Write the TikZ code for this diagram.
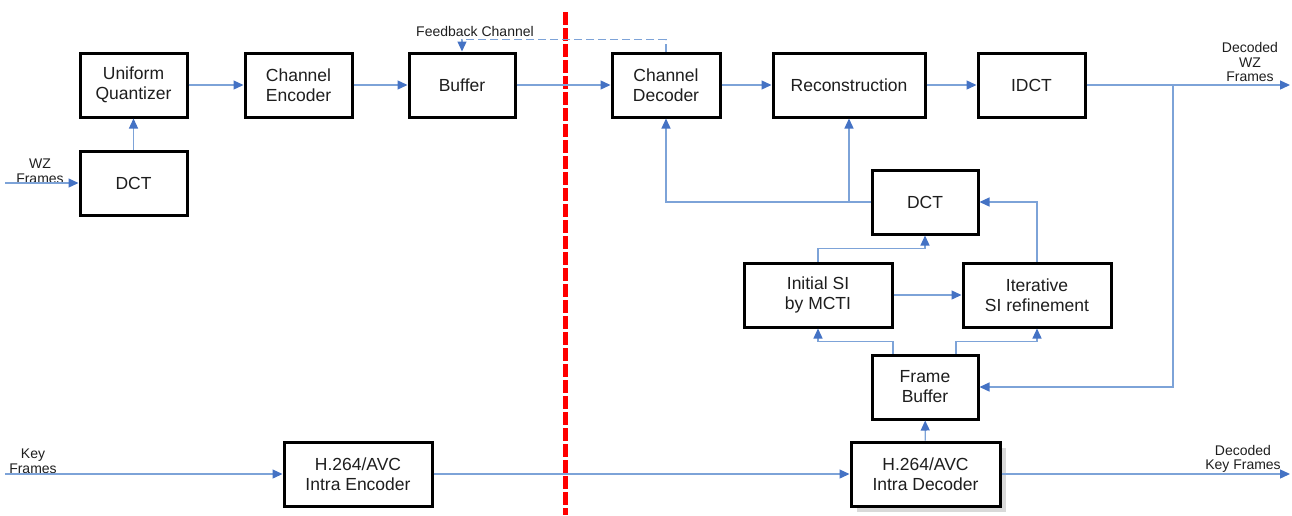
\documentclass[tikz,border=0pt]{standalone}
\usepackage{fontspec}
\setmainfont{Liberation Sans}
\usetikzlibrary{arrows.meta,calc,shadows}
\definecolor{lineblue}{RGB}{125,163,216}
\definecolor{tipblue}{RGB}{68,114,196}
\definecolor{txtgray}{RGB}{30,30,30}
\tikzset{
  box/.style={draw=black, line width=3pt, fill=white, minimum height=64pt, align=center,
    inner sep=2pt, text=txtgray, font=\fontsize{17.5}{20}\selectfont},
  conn/.style={draw=lineblue, line width=1.3pt, -{Triangle[length=10pt,width=9pt,color=tipblue]}},
  fbconn/.style={draw=lineblue, line width=1.2pt, dash pattern=on 8pt off 4pt, -{Triangle[length=10pt,width=9pt,color=tipblue]}},
  lbl/.style={align=center, text=txtgray, inner sep=0pt, font=\fontsize{14}{14.5}\selectfont},
  redline/.style={draw=red, line width=5pt, dash pattern=on 13pt off 3pt}
}
\begin{document}
\begin{tikzpicture}[x=1pt,y=-1pt]
\useasboundingbox (0,0) rectangle (1292,515);
% red divider
\draw[redline] (565,12) -- (565,515);
% boxes
\node[box, minimum width=107pt] (uq) at (133.5,85) {Uniform\\Quantizer};
\node[box, minimum width=107pt] (dcta) at (133.5,183) {DCT};
\node[box, minimum width=107pt] (ce) at (298.5,85) {Channel\\Encoder};
\node[box, minimum width=106pt] (buf) at (462,85) {Buffer};
\node[box, minimum width=108pt] (cd) at (666,85) {Channel\\Decoder};
\node[box, minimum width=152pt] (rec) at (849,85) {Reconstruction};
\node[box, minimum width=107pt] (idct) at (1031.5,85) {IDCT};
\node[box, minimum width=106pt] (dctb) at (925,202) {DCT};
\node[box, minimum width=148pt] (isi) at (818,295) {Initial SI\\by MCTI};
\node[box, minimum width=148pt] (iter) at (1037,295) {Iterative\\SI refinement};
\node[box, minimum width=106pt] (fbuf) at (925,387) {Frame\\Buffer};
\node[box, minimum width=149pt, drop shadow={shadow xshift=6pt, shadow yshift=-6pt, fill=black!15, opacity=1}] (idec) at (925.5,474) {H.264/AVC\\Intra Decoder};
\node[box, minimum width=148pt] (ienc) at (358,474) {H.264/AVC\\Intra Encoder};
% labels
\node[lbl] (lwz) at (40,171) {WZ\\Frames};
\node[lbl] (lkey) at (33,461) {Key\\Frames};
\node[lbl] (ldwz) at (1250,62) {Decoded\\WZ\\Frames};
\node[lbl] (ldkey) at (1243,459) {Decoded\\Key Frames};
\node[lbl] (lfb) at (475,31) {Feedback Channel};
% free ends
\coordinate (wzin) at (5,183);
\coordinate (keyin) at (5,474);
\coordinate (wzout) at (1290,85);
\coordinate (keyout) at (1290,474);
\coordinate (jn) at (1173,85);
% connectors
\draw[conn] (wzin) -- (dcta.west);
\draw[conn] (dcta) -- (uq);
\draw[conn] (uq) -- (ce);
\draw[conn] (ce) -- (buf);
\draw[conn] (buf) -- (cd);
\draw[conn] (cd) -- (rec);
\draw[conn] (rec) -- (idct);
\draw[conn] (idct.east) -- (wzout);
\draw[conn] (jn) |- (fbuf.east);
\draw[fbconn] (cd.north) -- ++(0,-12) -| (buf.north);
\draw[conn] (dctb.west) -| (cd.south);
\draw[conn] (rec.south |- dctb.west) -- (rec.south);
\draw[conn] (iter.north) |- (dctb.east);
\draw[conn] (isi.north) -- ++(0,-13) -| (dctb.south);
\draw[conn] (isi) -- (iter);
\draw[conn] ([xshift=-32pt]fbuf.north) -- ++(0,-12) -| (isi.south);
\draw[conn] ([xshift=31pt]fbuf.north) -- ++(0,-12) -| (iter.south);
\draw[conn] (idec) -- (fbuf);
\draw[conn] (keyin) -- (ienc.west);
\draw[conn] (ienc) -- (idec);
\draw[conn] (idec.east) -- (keyout);
\end{tikzpicture}
\end{document}
